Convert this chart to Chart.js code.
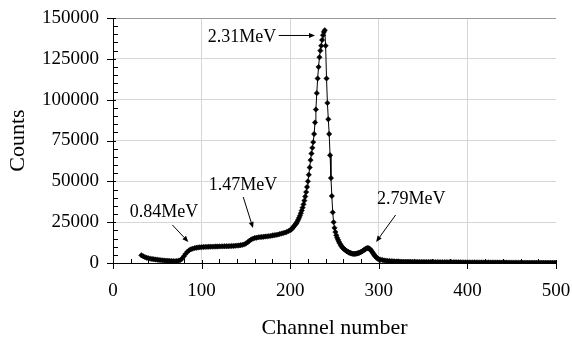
<!DOCTYPE html>
<html><head><meta charset="utf-8">
<script src="https://cdn.jsdelivr.net/npm/chart.js@4/dist/chart.umd.min.js"></script>
<style>html,body{margin:0;padding:0;background:#fff}</style>
</head><body>
<canvas id="c" width="572" height="339"></canvas>
<script>
// ---- data ----
const channels = [
 32,34,36,38,40,42,44,46,48,50,52,54,56,58,60,62,64,66,68,70,72,74,76,78,80,82,84,86,88,90,
 92,94,96,98,100,102,104,106,108,110,112,114,116,118,120,122,124,126,128,130,132,134,136,138,140,
 142,144,146,148,150,152,154,156,158,160,162,164,166,168,170,172,174,176,178,180,182,184,186,188,190,
 192,194,196,198,200,
 201,202,203,204,205,206,207,208,209,210,211,212,213,214,215,216,217,218,219,220,
 221,222,223,224,225,226,227,228,229,230,231,232,233,234,235,236,237,238,239,240,
 241,242,243,244,245,246,247,248,249,250,251,252,253,254,255,256,257,258,259,260,
 261,262,263,264,265,266,267,268,269,270,271,272,273,274,275,276,277,278,279,280,
 281,282,283,284,285,286,287,288,289,290,291,292,293,294,295,296,297,298,299,300,
 302,304,306,308,310,312,314,316,318,320,322,324,326,328,330,332,334,336,338,340,
 342,344,346,348,350,352,354,356,358,360,362,364,366,368,370,372,374,376,378,380,
 382,384,386,388,390,392,394,396,398,400,402,404,406,408,410,412,414,416,418,420,
 422,424,426,428,430,432,434,436,438,440,442,444,446,448,450,452,454,456,458,460,
 462,464,466,468,470,472,474,476,478,480,482,484,486,488,490,492,494,496,498,500
];
const counts = [
 4700,4100,3600,3200,2900,2650,2450,2300,2150,2000,1850,1750,1600,1500,1420,1350,1280,1220,1170,1130,1180,1350,1750,2700,4100,5600,6900,7800,8400,8800,
 9100,9300,9450,9600,9700,9800,9850,9900,9950,10000,10000,10050,10100,10100,10150,10150,10200,10250,10250,10300,10350,10400,10450,10550,10650,
 10750,10900,11100,11400,11900,12700,13600,14400,14900,15300,15500,15700,15850,15950,16050,16200,16300,16450,16600,16800,17000,17200,17400,17700,18000,
 18300,18600,19000,19500,20100,
 20500,21000,21600,22300,23000,23700,24400,25400,26500,27700,29000,30500,32100,33900,35900,38200,40700,43400,46500,50000,
 54000,58500,63000,67000,70500,74000,79000,86000,94000,104000,113000,120000,126000,130000,133000,136500,139500,141500,142500,133000,
 113000,98000,88000,79000,66000,52000,41000,31000,25000,21500,19000,17000,15500,14200,13000,12000,11000,10200,9500,8900,
 8400,8000,7600,7200,6900,6600,6300,6100,5900,5700,5600,5600,5600,5700,5800,5900,6100,6300,6500,6800,
 7100,7400,7800,8200,8600,8900,9100,9100,8900,8500,7900,7200,6400,5600,4800,4100,3500,3000,2600,2300,
 2000,1800,1600,1450,1300,1200,1100,1050,990,950,900,870,830,800,780,760,740,720,710,690,
 680,660,650,640,630,620,610,600,590,580,570,560,555,540,530,520,515,500,490,480,
 470,465,450,440,430,425,410,405,390,380,370,366,360,355,350,345,338,335,330,325,
 320,316,310,305,300,296,290,285,281,275,270,266,260,255,250,246,240,236,230,225,
 220,216,210,205,200,196,190,186,180,175,170,166,160,155,150,146,140,136,130,125
];
const xTickLabels = [0, 100, 200, 300, 400, 500];
const yTickLabels = [0, 25000, 50000, 75000, 100000, 125000, 150000];

// annotations (data units: channel, counts)
const noteText  = ['0.84MeV', '1.47MeV', '2.31MeV', '2.79MeV'];
const noteX     = [19, 108, 107, 298];
const noteY     = [31200, 47800, 138300, 39200];
const arrowX0   = [67, 147, 187, 319];
const arrowY0   = [23300, 40400, 139300, 29400];
const arrowX1   = [85, 158, 228, 297];
const arrowY1   = [12900, 21400, 139300, 12900];

const SERIF = "'Liberation Serif', 'Times New Roman', serif";
const points = channels.map((c, i) => ({x: c, y: counts[i]}));

const axisTicks = {
  id: 'axisTicks',
  afterDraw(chart) {
    const ctx = chart.ctx, xs = chart.scales.x, ys = chart.scales.y;
    const x0 = xs.getPixelForValue(0), y0 = ys.getPixelForValue(0);
    ctx.save();
    ctx.strokeStyle = '#000'; ctx.lineWidth = 1;
    ctx.beginPath();
    for (let v = 0; v <= 500; v += 20) {
      const px = Math.round(xs.getPixelForValue(v)) + 0.5;
      if (v % 100 === 0) { ctx.moveTo(px, y0 - 3); ctx.lineTo(px, y0 + 6); }
      else { ctx.moveTo(px, y0 - 4); ctx.lineTo(px, y0); }
    }
    for (let v = 0; v <= 150000; v += 5000) {
      const py = Math.round(ys.getPixelForValue(v)) + 0.5;
      if (v % 25000 === 0) { ctx.moveTo(x0 - 6, py); ctx.lineTo(x0 + 3, py); }
      else { ctx.moveTo(x0, py); ctx.lineTo(x0 + 5, py); }
    }
    ctx.stroke();
    ctx.restore();
  },
  afterDatasetsDraw(chart) {
    const ctx = chart.ctx, xs = chart.scales.x, ys = chart.scales.y;
    ctx.save();
    ctx.fillStyle = '#000'; ctx.strokeStyle = '#000'; ctx.lineWidth = 1;
    ctx.font = "18px " + SERIF;
    ctx.textBaseline = 'middle'; ctx.textAlign = 'left';
    for (let i = 0; i < noteText.length; i++) {
      ctx.fillText(noteText[i], xs.getPixelForValue(noteX[i]), ys.getPixelForValue(noteY[i]));
      const ax = xs.getPixelForValue(arrowX0[i]), ay = ys.getPixelForValue(arrowY0[i]);
      const bx = xs.getPixelForValue(arrowX1[i]), by = ys.getPixelForValue(arrowY1[i]);
      const ang = Math.atan2(by - ay, bx - ax), L = 6, W = 2.5;
      ctx.beginPath(); ctx.moveTo(ax, ay);
      ctx.lineTo(bx - L * Math.cos(ang), by - L * Math.sin(ang)); ctx.stroke();
      ctx.beginPath(); ctx.moveTo(bx, by);
      ctx.lineTo(bx - L * Math.cos(ang) + W * Math.sin(ang), by - L * Math.sin(ang) - W * Math.cos(ang));
      ctx.lineTo(bx - L * Math.cos(ang) - W * Math.sin(ang), by - L * Math.sin(ang) + W * Math.cos(ang));
      ctx.closePath(); ctx.fill();
    }
    ctx.restore();
  }
};

new Chart(document.getElementById('c'), {
  type: 'scatter',
  data: { datasets: [{
    data: points, showLine: true, borderColor: '#000', borderWidth: 1,
    pointStyle: 'rectRot', pointRadius: 2.7, pointBackgroundColor: '#000',
    pointBorderColor: '#000', pointBorderWidth: 0.5
  }]},
  options: {
    responsive: false, animation: false, devicePixelRatio: 1,
    layout: { padding: { top: 18, right: 16, left: 0, bottom: 0 } },
    plugins: { legend: { display: false }, tooltip: { enabled: false } },
    scales: {
      x: {
        type: 'linear', min: 0, max: 500,
        afterBuildTicks: s => { s.ticks = xTickLabels.map(v => ({ value: v })); },
        afterFit: s => { s.height = 76; s.paddingLeft = 0; s.paddingRight = 0; },
        grid: { drawTicks: false, lineWidth: 1,
          color: c => (c.tick && (c.tick.value === 0 || c.tick.value === 500)) ? 'rgba(0,0,0,0)' : '#d6d6d6' },
        border: { display: true, color: '#000', width: 1 },
        ticks: { padding: 17, color: '#000', maxRotation: 0, font: { family: SERIF, size: 19 },
          callback: v => String(v) },
        title: { display: true, text: 'Channel number', color: '#000',
          font: { family: SERIF, size: 22, lineHeight: 1 }, padding: { top: 0, bottom: 0 } }
      },
      y: {
        type: 'linear', min: 0, max: 150000,
        afterBuildTicks: s => { s.ticks = yTickLabels.map(v => ({ value: v })); },
        afterFit: s => { s.width = 113; s.paddingTop = 0; s.paddingBottom = 0; },
        grid: { drawTicks: false, lineWidth: 1,
          color: c => (c.tick && c.tick.value === 0) ? 'rgba(0,0,0,0)' : (c.tick && c.tick.value === 150000 ? '#9a9a9a' : '#d6d6d6') },
        border: { display: true, color: '#000', width: 1 },
        ticks: { padding: 14, color: '#000', font: { family: SERIF, size: 19 }, callback: v => String(v) },
        title: { display: true, text: 'Counts', color: '#000',
          font: { family: SERIF, size: 22, lineHeight: 1 }, padding: { top: 7, bottom: 0 } }
      }
    }
  },
  plugins: [axisTicks]
});
</script>
</body></html>
